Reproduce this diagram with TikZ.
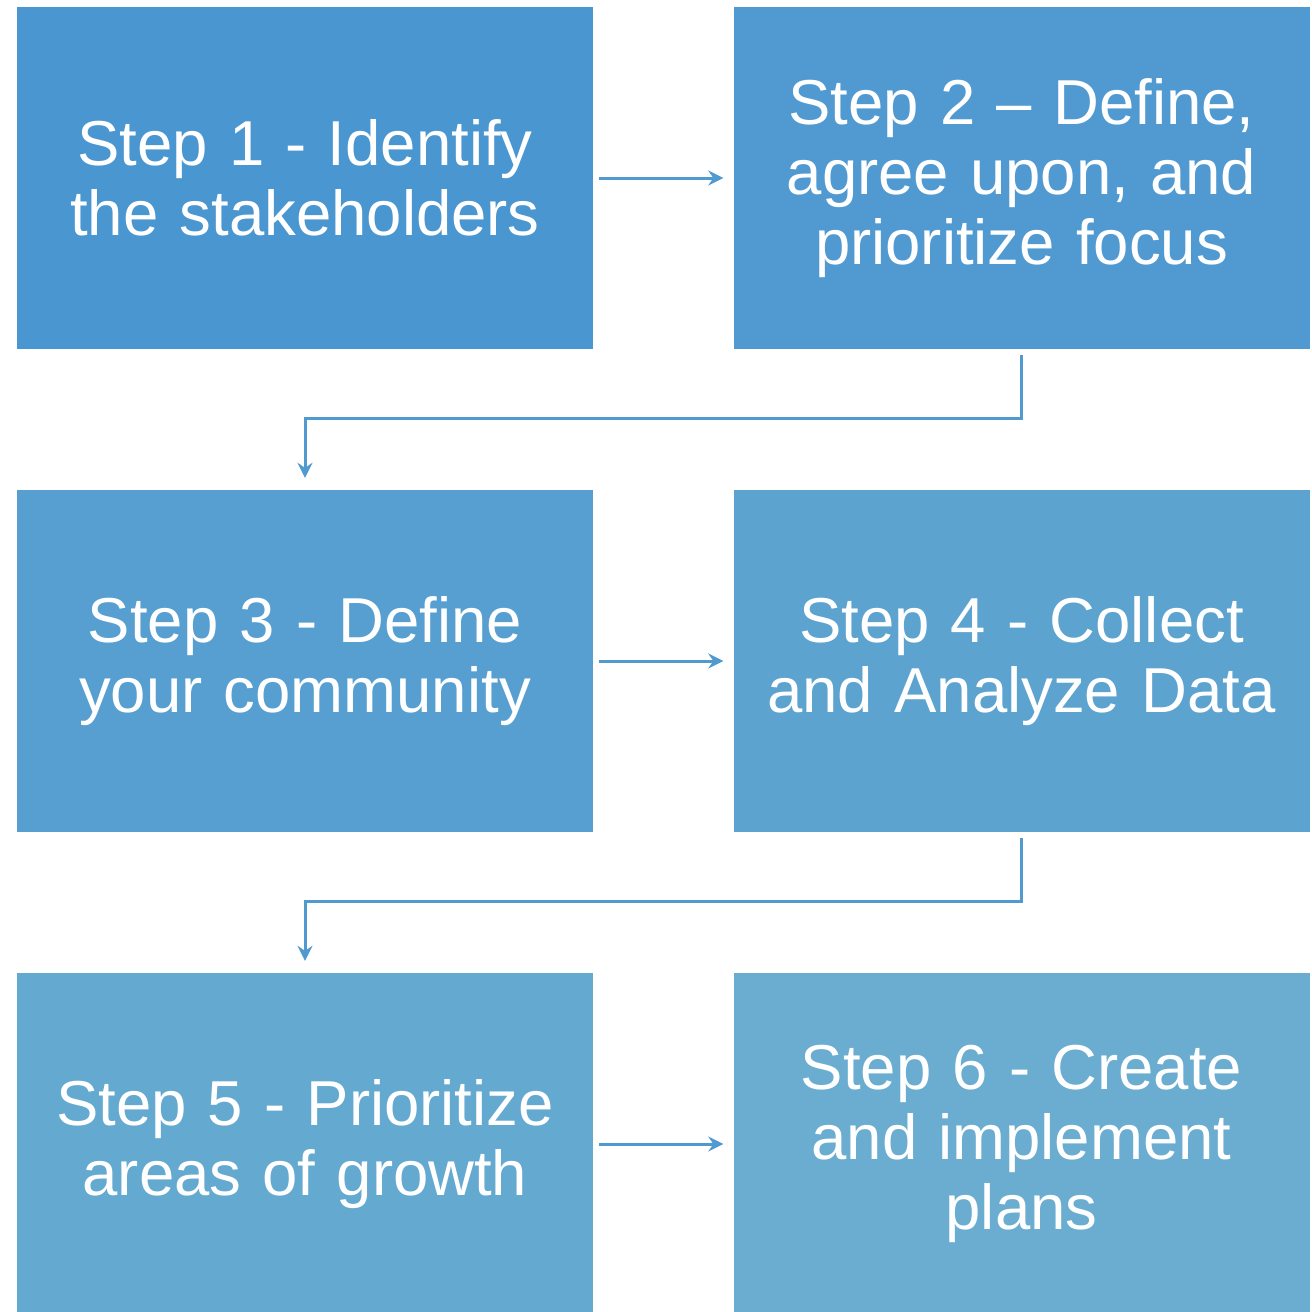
\documentclass[tikz,border=0pt]{standalone}
\usepackage{fontspec}
\setmainfont{Liberation Sans}
\usetikzlibrary{arrows.meta}
\usetikzlibrary{positioning}
\definecolor{stepA}{HTML}{4A96D0}
\definecolor{stepB}{HTML}{519AD1}
\definecolor{stepC}{HTML}{579FD0}
\definecolor{stepD}{HTML}{5DA3D0}
\definecolor{stepE}{HTML}{64A9D0}
\definecolor{stepF}{HTML}{6AADD0}
\definecolor{link}{HTML}{519AD0}
\tikzset{%
    stepbox/.style={rectangle, draw=none, minimum width=576pt, minimum height=342pt,
        text width=560pt, align=center, text=white, inner sep=0pt,
        font={\fontsize{63.5pt}{70pt}\selectfont}},
    link/.style={draw=link, line width=3pt, -{Stealth[length=15pt,width=15pt,inset=5pt]}},
}

\begin{document}
\begin{tikzpicture}[x=1pt,y=-1pt]
\useasboundingbox (0,0) rectangle (1312,1312);
\node (s1) [stepbox, fill=stepA] at (305,178) {Step 1 - Identify\\the stakeholders};
\node (s2) [stepbox, fill=stepB] at (1021.5,178) {Step 2 -- Define,\\agree upon, and\\prioritize focus};
\node (s3) [stepbox, fill=stepC] at (305,661) {Step 3 - Define\\your community};
\node (s4) [stepbox, fill=stepD] at (1021.5,661) {Step 4 - Collect\\and Analyze Data};
\node (s5) [stepbox, fill=stepE] at (305,1144) {Step 5 - Prioritize\\areas of growth};
\node (s6) [stepbox, fill=stepF] at (1021.5,1144) {Step 6 - Create\\and implement\\plans};
% row links
\draw [link] ([xshift=6pt]s1.east) -- ([xshift=-10pt]s2.west);
\draw [link] ([xshift=6pt]s3.east) -- ([xshift=-10pt]s4.west);
\draw [link] ([xshift=6pt]s5.east) -- ([xshift=-10pt]s6.west);
% elbow links
\draw [link] ([yshift=-6pt]s2.south) |- (305,418) -- ([yshift=12pt]s3.north);
\draw [link] ([yshift=-6pt]s4.south) |- (305,901) -- ([yshift=12pt]s5.north);
\end{tikzpicture}
\end{document}
